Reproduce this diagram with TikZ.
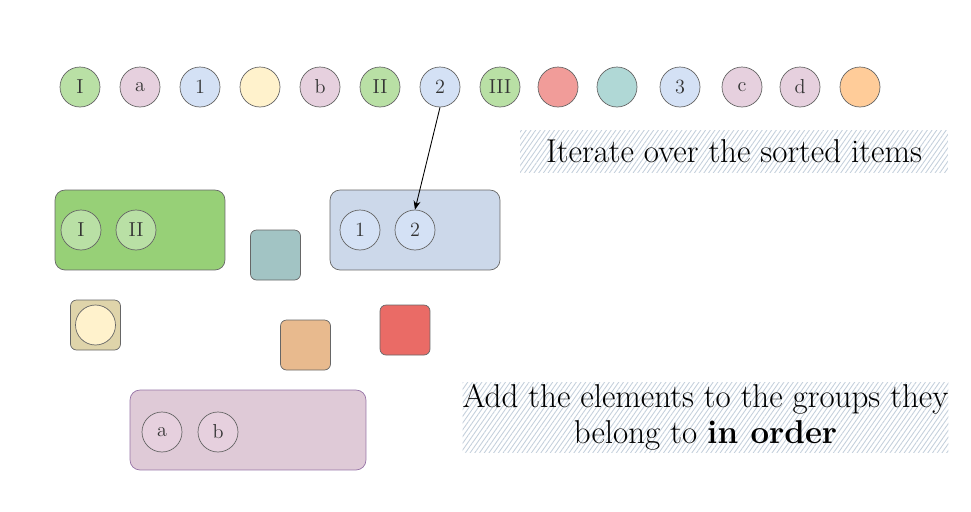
\documentclass[tikz,border=0pt]{standalone}
\usepackage{tikz}
\usepackage{xcolor}
\usetikzlibrary{arrows.meta,positioning,patterns.meta}
\definecolor{EdgeGray}{HTML}{666666}
\definecolor{GreenItem}{HTML}{B9E0A5}
\definecolor{PinkItem}{HTML}{E6D0DE}
\definecolor{BlueItem}{HTML}{D4E1F5}
\definecolor{YellowItem}{HTML}{FFF2CC}
\definecolor{RedItem}{HTML}{F19C99}
\definecolor{TealItem}{HTML}{B0D8D6}
\definecolor{OrangeItem}{HTML}{FFCC99}
\definecolor{GreenGroup}{HTML}{97D077}
\definecolor{BlueGroup}{HTML}{CCD8EA}
\definecolor{PurpleGroup}{HTML}{DFCAD7}
\definecolor{PurpleEdge}{HTML}{9673A6}
\definecolor{TealGroup}{HTML}{A2C4C4}
\definecolor{YellowGroup}{HTML}{DFD4AA}
\definecolor{OrangeGroup}{HTML}{E8BA8E}
\definecolor{RedGroup}{HTML}{EA6B66}
\definecolor{HatchGray}{HTML}{C4D0DC}

\begin{document}
\begin{tikzpicture}[x=0.02cm,y=-0.02cm,
  item/.style={circle, draw=EdgeGray, minimum size=0.8cm, inner sep=0pt,
               font=\fontsize{11.5}{13}\selectfont, text=black!80},
  groupbox/.style={draw=EdgeGray, rounded corners=0.2cm, minimum width=3.4cm,
                   minimum height=1.6cm},
  bucket/.style={draw=EdgeGray, rounded corners=0.12cm, minimum size=1cm},
  note/.style={pattern={Lines[angle=55,distance=2.2pt,line width=0.5pt]},
               pattern color=HatchGray, align=center, inner sep=0pt,
               font=\fontsize{18.8}{20.8}\selectfont}]
\useasboundingbox (0,0) rectangle (971,511);

% sorted items
\foreach \n/\x/\c/\t in {s1/80/GreenItem/I, s2/140/PinkItem/a, s3/200/BlueItem/1,
    s4/260/YellowItem/{}, s5/320/PinkItem/b, s6/380/GreenItem/II, s7/440/BlueItem/2,
    s8/500/GreenItem/III, s9/558/RedItem/{}, s10/617/TealItem/{}, s11/680/BlueItem/3,
    s12/742/PinkItem/c, s13/800/PinkItem/d, s14/860/OrangeItem/{}}
  \node[item, fill=\c] (\n) at (\x,87) {\t};

% groups
\node[groupbox, fill=GreenGroup] (green) at (140,230) {};
\node[item, fill=GreenItem] (g1) at (81,230) {I};
\node[item, fill=GreenItem] (g2) at (136,230) {II};

\node[groupbox, fill=BlueGroup] (blue) at (415,230) {};
\node[item, fill=BlueItem] (b1) at (360,230) {1};
\node[item, fill=BlueItem] (b2) at (415,230) {2};

\node[groupbox, fill=PurpleGroup, draw=PurpleEdge, minimum width=4.72cm] (purple) at (248,430) {};
\node[item, fill=PinkItem] (p1) at (162,432) {a};
\node[item, fill=PinkItem] (p2) at (218,432) {b};

\node[bucket, fill=TealGroup] (teal) at (275.5,255) {};
\node[bucket, fill=YellowGroup] (yellow) at (95.5,325) {};
\node[item, fill=YellowItem] (y1) at (95.5,325) {};
\node[bucket, fill=OrangeGroup] (orange) at (305.5,345) {};
\node[bucket, fill=RedGroup] (red) at (405,330) {};

\draw[-{Stealth[length=5pt,width=4pt]}, line width=0.5pt] (s7.south) -- (b2.north);

% notes
\node[note, minimum width=8.56cm, minimum height=0.84cm] (iter) at (734,151)
  {Iterate over the sorted items};
\node[note, minimum width=9.7cm, minimum height=1.4cm] (add) at (705.5,417)
  {Add the elements to the groups they\\belong to \textbf{in order}};
\end{tikzpicture}
\end{document}
